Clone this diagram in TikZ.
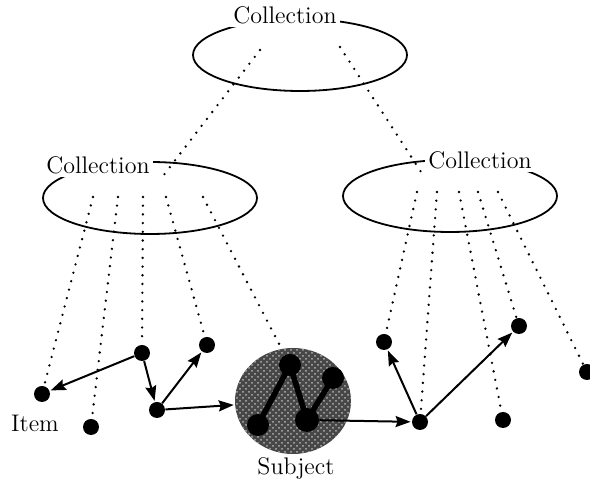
\documentclass[tikz,border=0pt]{standalone}
\usetikzlibrary{arrows.meta,shapes.geometric,patterns}
\begin{document}
\begin{tikzpicture}[x=0.5pt,y=-0.5pt,
  every node/.style={font=\fontsize{12}{14}\selectfont},
  ell/.style={ellipse, draw, line width=0.9pt, inner sep=0pt, minimum width=107pt, minimum height=36pt},
  lab/.style={fill=white, inner sep=1.5pt},
  dot/.style={circle, fill=black, inner sep=0pt, minimum size=8pt},
  innerdot/.style={circle, fill=black, inner sep=0pt, minimum size=11pt},
  arr/.style={line width=1pt, -{Stealth[length=7.5pt,width=5.5pt,inset=1pt]}, shorten >=0.5pt},
  dotline/.style={line width=1.3pt, line cap=round, dash pattern=on 0pt off 4.35pt},
  blobstyle/.style={ellipse, fill=black!72, inner sep=0pt, minimum width=58pt, minimum height=53pt},
]
\useasboundingbox (0,0) rectangle (590,485);

% collections
\node[ell] (top) at (300,55) {};
\node[ell] (left) at (150,198) {};
\node[ell] (right) at (450,196) {};

% item dots
\node[dot] (A) at (42,394) {};
\node[dot] (B) at (91,427) {};
\node[dot] (C) at (142,353) {};
\node[dot] (D) at (207,345) {};
\node[dot] (E) at (157,410) {};
\node[dot] (F) at (420,422) {};
\node[dot] (G) at (384,342) {};
\node[dot] (H) at (519,326) {};
\node[dot] (I) at (503,420) {};
\node[dot] (J) at (587,372) {};

% start points of dotted lines
\coordinate (t1) at (260,50);
\coordinate (t2) at (340,47);
\coordinate (l0) at (163,176);
\coordinate (r0) at (423,175);
\coordinate (l1) at (93,197);
\coordinate (l2) at (118,197);
\coordinate (l3) at (143,197);
\coordinate (l4) at (166,197);
\coordinate (l5) at (203,197);
\coordinate (r1) at (417,192);
\coordinate (r2) at (437,192);
\coordinate (r3) at (459,192);
\coordinate (r4) at (478,192);
\coordinate (r5) at (498,192);
\coordinate (p1) at (290,365);

\draw[dotline] (l1) -- (A);
\draw[dotline] (l2) -- (B);
\draw[dotline] (l3) -- (C);
\draw[dotline] (l4) -- (D);
\draw[dotline] (l5) -- (p1);
\draw[dotline] (r1) -- (G);
\draw[dotline] (r2) -- (F);
\draw[dotline] (r3) -- (I);
\draw[dotline] (r4) -- (H);
\draw[dotline] (r5) -- (J);

% subject
\node[blobstyle] (blob) at (293,401) {};
\fill[pattern=crosshatch dots, pattern color=white!70!black] (blob.center) ellipse [x radius=58, y radius=53];
\node[innerdot] (s1) at (290,365) {};
\node[innerdot] (s2) at (333,378) {};
\node[innerdot] (s3) at (258,425) {};
\node[innerdot, minimum size=12pt] (s4) at (307,420) {};
\draw[line width=2.8pt] (s3.center) -- (s1.center) -- (s4.center) -- (s2.center);

% labels
\node[lab] (tl) at (285,15) {Collection};
\node[lab] (ll) at (98,165) {Collection};
\node[lab] (rl) at (480,160) {Collection};
\node (item) at (35,423) {Item};
\node (subj) at (296,469) {Subject};

\draw[dotline] (t1) -- (l0);
\draw[dotline] (t2) -- (r0);

% arrows
\draw[arr] (C) -- (A);
\draw[arr] (C) -- (E);
\draw[arr] (E) -- (D);
\draw[arr] (E) -- (blob);
\draw[arr] (s4) -- (F);
\draw[arr] (F) -- (G);
\draw[arr] (F) -- (H);
\end{tikzpicture}
\end{document}
